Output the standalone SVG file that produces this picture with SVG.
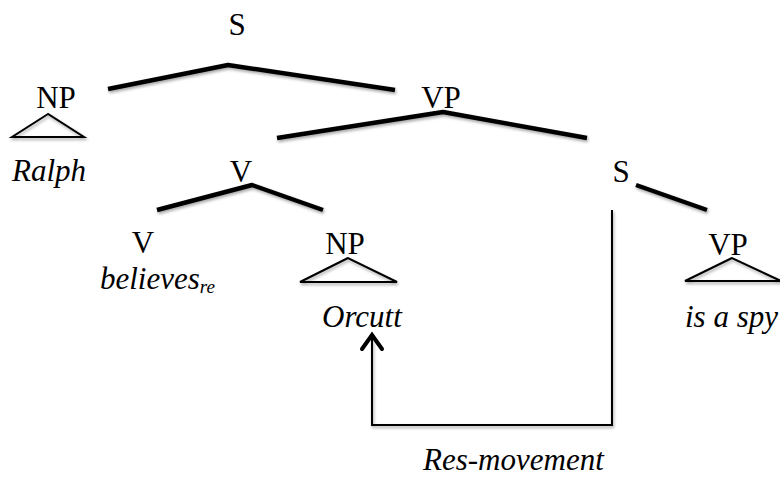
<svg xmlns="http://www.w3.org/2000/svg" width="780" height="478" viewBox="0 0 780 478">
<defs>
<filter id="sh" x="-10%" y="-50%" width="120%" height="200%">
<feDropShadow dx="1" dy="2" stdDeviation="1.5" flood-color="#000" flood-opacity="0.35"/>
</filter>
</defs>
<style>
.lbl{font-family:"Liberation Serif","Times New Roman",serif;font-size:31px;fill:#000}
.it{font-style:italic}
.br{fill:none;stroke:#000;stroke-width:4.5;stroke-linecap:butt;stroke-linejoin:round;filter:url(#sh)}
.tri{fill:none;stroke:#000;stroke-width:2;stroke-linejoin:miter;filter:url(#sh)}
.thin{fill:none;stroke:#000;stroke-width:2;filter:url(#sh)}
.head{fill:none;stroke:#000;stroke-width:4;stroke-linecap:round;stroke-linejoin:miter}
</style>
<rect width="780" height="478" fill="#fff"/>
<g id="connectors">
<polyline class="br" points="108,89 228,65 395,90"/>
<polyline class="br" points="277,138 443,112 587,138"/>
<polyline class="br" points="157,210 252,185 323,210"/>
<line class="br" x1="636" y1="185" x2="707" y2="210"/>
<polyline class="thin" points="612,210 612,425 372,425 372,336"/>
<polyline class="head" points="362,349 372,335 382,349"/>
</g>
<g id="S-root"><text class="lbl" x="237" y="35" text-anchor="middle">S</text></g>
<g id="NP-Ralph">
<text class="lbl" x="56" y="108" text-anchor="middle">NP</text>
<polygon class="tri" points="48,114 12,137 84,137"/>
<text class="lbl it" x="12" y="181">Ralph</text>
</g>
<g id="VP"><text class="lbl" x="441" y="108" text-anchor="middle">VP</text></g>
<g id="V-upper"><text class="lbl" x="241" y="182" text-anchor="middle">V</text></g>
<g id="S-embedded"><text class="lbl" x="621" y="182" text-anchor="middle">S</text></g>
<g id="V-believes">
<text class="lbl" x="143" y="253" text-anchor="middle">V</text>
<text class="lbl it" x="100" y="289">believes<tspan font-size="19" dy="4">re</tspan></text>
</g>
<g id="NP-Orcutt">
<text class="lbl" x="345" y="254" text-anchor="middle">NP</text>
<polygon class="tri" points="348,258 300,282 397,282"/>
<text class="lbl it" x="322" y="327">Orcutt</text>
</g>
<g id="VP-spy">
<text class="lbl" x="728" y="255" text-anchor="middle">VP</text>
<polygon class="tri" points="732,258 685,281 781,281"/>
<text class="lbl it" x="685" y="327">is a spy</text>
</g>
<g id="label-res"><text class="lbl it" x="423" y="470">Res-movement</text></g>
</svg>
